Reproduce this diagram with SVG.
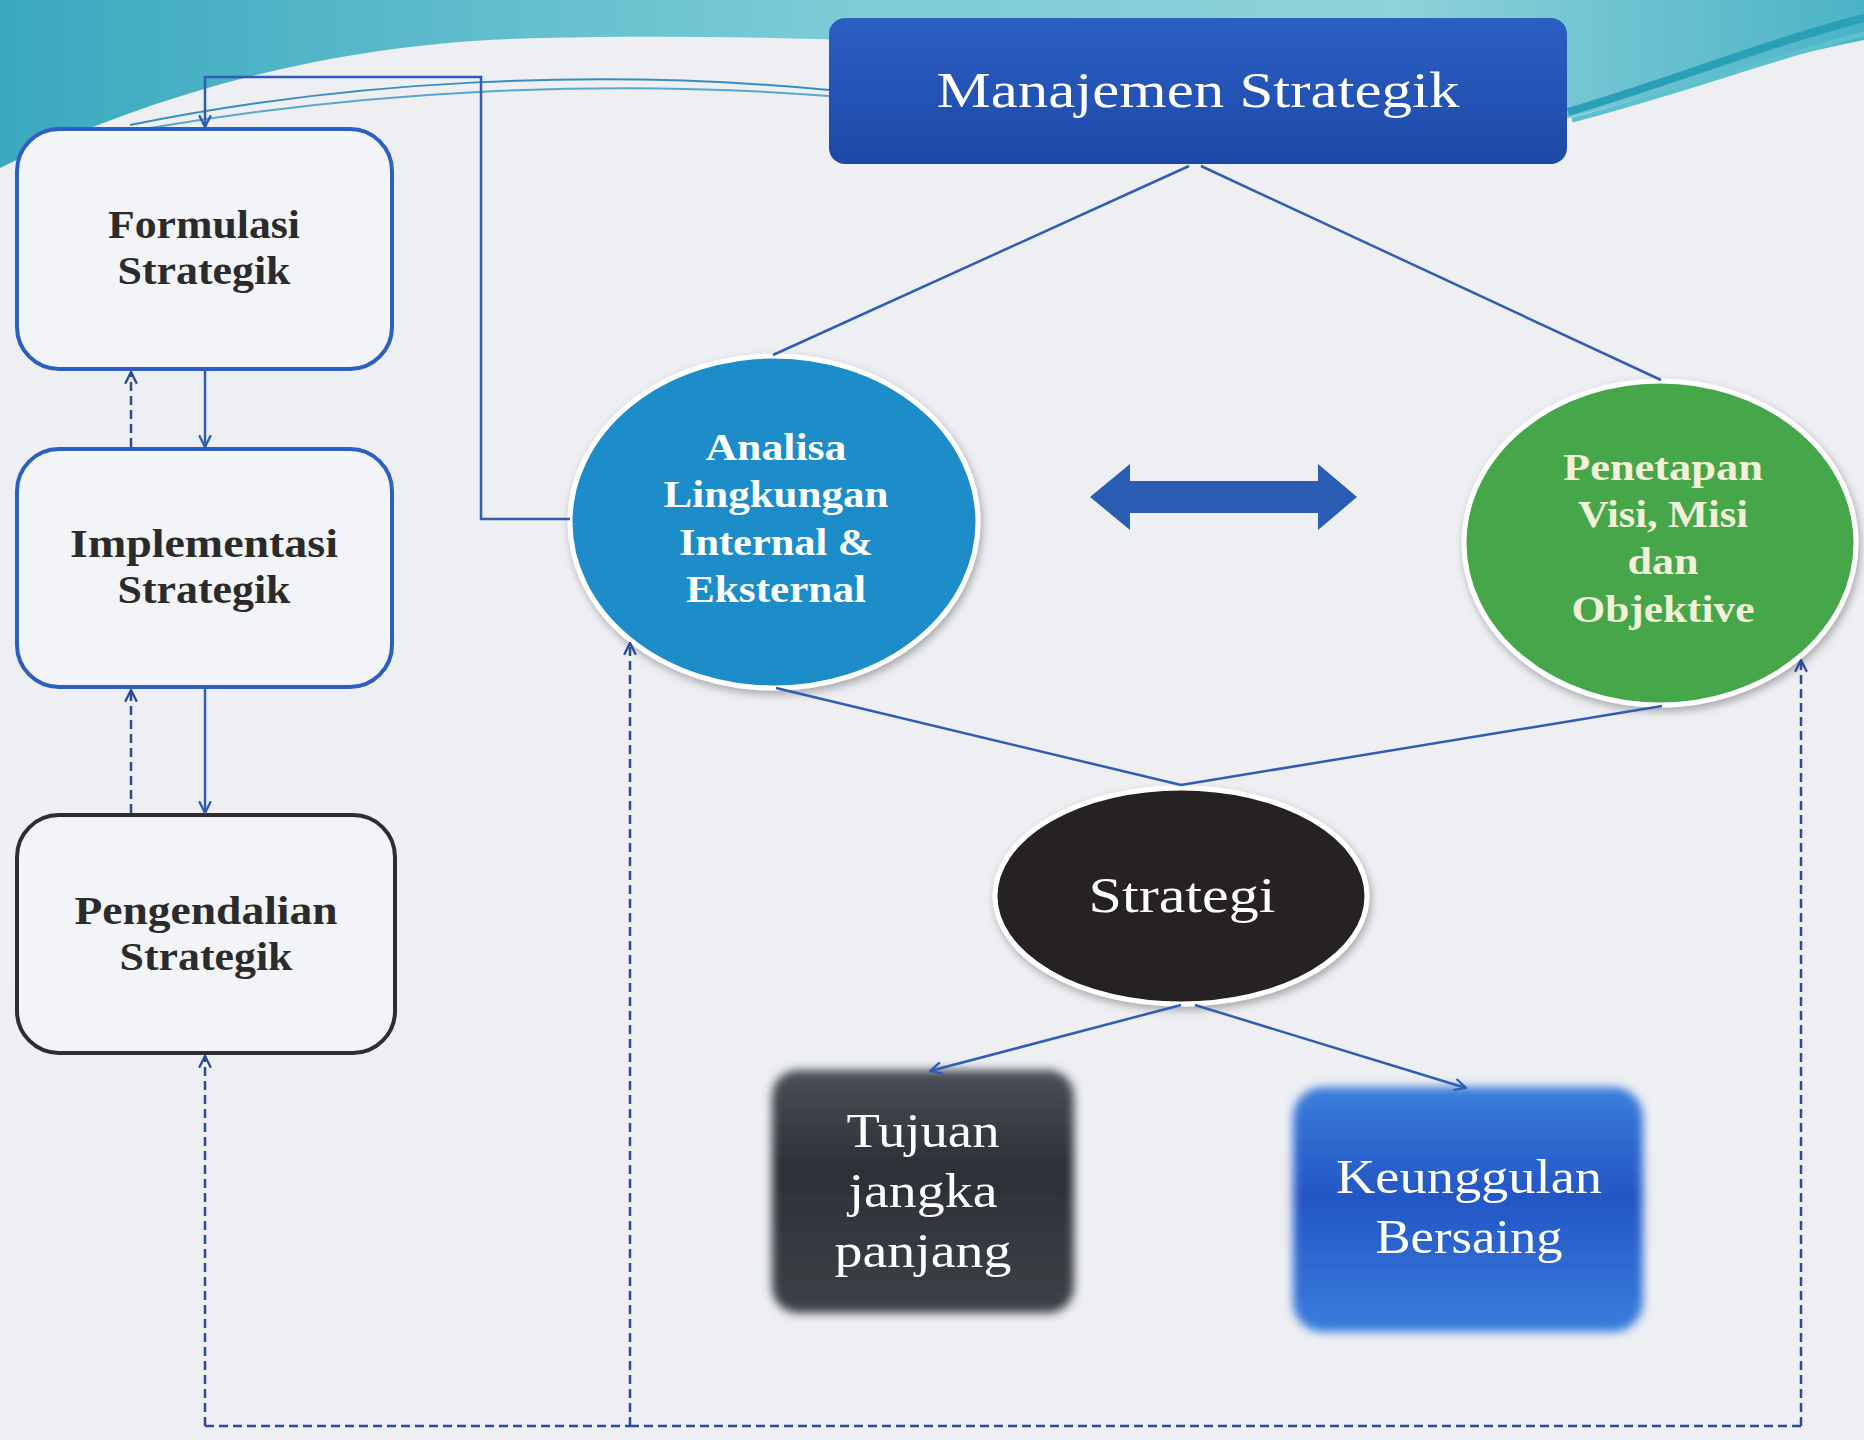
<svg xmlns="http://www.w3.org/2000/svg" width="1864" height="1440" viewBox="0 0 1864 1440">
<defs>
<style>
.t{font-family:"Liberation Serif","Times New Roman",serif;text-anchor:middle}
.b{font-weight:bold}
.dark{fill:#2b2b2b;font-size:40px}
.wt{fill:#ffffff}
.ell{font-size:38px}
.sq{font-size:48px}
.con{fill:none;stroke:#2f5cb5;stroke-width:2.5}
.dash{fill:none;stroke:#2a4a9c;stroke-width:2.5;stroke-dasharray:9 5}
.lbox{fill:#f3f4f7;stroke-width:4}
</style>
<linearGradient id="teal" x1="0" y1="0" x2="1" y2="0">
<stop offset="0" stop-color="#3aa8bf"/>
<stop offset="0.45" stop-color="#7cccd6"/>
<stop offset="0.75" stop-color="#8fd2da"/>
<stop offset="1" stop-color="#4bb3c6"/>
</linearGradient>
<linearGradient id="gMan" x1="0" y1="0" x2="0" y2="1">
<stop offset="0" stop-color="#2b5fc2"/>
<stop offset="1" stop-color="#1c49a8"/>
</linearGradient>
<linearGradient id="gTuj" x1="0" y1="0" x2="0" y2="1">
<stop offset="0" stop-color="#4a4f57"/>
<stop offset="0.4" stop-color="#2c3036"/>
<stop offset="1" stop-color="#3d4148"/>
</linearGradient>
<linearGradient id="gKeu" x1="0" y1="0" x2="0" y2="1">
<stop offset="0" stop-color="#3b7ddc"/>
<stop offset="0.45" stop-color="#2356c4"/>
<stop offset="1" stop-color="#3a7ddd"/>
</linearGradient>
<filter id="shadow" x="-20%" y="-20%" width="140%" height="140%">
<feDropShadow dx="2" dy="4" stdDeviation="4" flood-color="#000" flood-opacity="0.3"/>
</filter>
<filter id="soft" x="-10%" y="-10%" width="120%" height="120%">
<feGaussianBlur stdDeviation="5"/>
</filter>
<marker id="arr" viewBox="0 0 12 12" refX="11" refY="6" markerWidth="14" markerHeight="14" markerUnits="userSpaceOnUse" orient="auto">
<path d="M1,1 L11,6 L1,11" fill="none" stroke="#2f5cb5" stroke-width="2"/>
</marker>
<marker id="arrd" viewBox="0 0 12 12" refX="11" refY="6" markerWidth="14" markerHeight="14" markerUnits="userSpaceOnUse" orient="auto">
<path d="M1,1 L11,6 L1,11" fill="none" stroke="#2a4a9c" stroke-width="2"/>
</marker>
</defs>

<rect x="0" y="0" width="1864" height="1440" fill="#edeff3"/>

<g id="decor">
<path d="M0,0 H1864 V40 C1760,60 1660,95 1568,118 C1300,60 900,30 540,38 C330,42 150,95 0,168 Z" fill="url(#teal)"/>
<path d="M1568,112 C1670,82 1770,42 1864,18" fill="none" stroke="#2aa0b6" stroke-width="8"/>
<path d="M1572,120 C1680,92 1780,55 1864,34" fill="none" stroke="#5cc0cf" stroke-width="5"/>
<path d="M829,90 C600,68 350,80 130,125" fill="none" stroke="#3a8cc0" stroke-width="2"/>
<path d="M829,96 C600,78 360,92 150,128" fill="none" stroke="#5aa6cf" stroke-width="2"/>
</g>

<g id="node-manajemen">
<rect x="829" y="18" width="738" height="146" rx="16" fill="url(#gMan)"/>
<text class="t wt" x="1198" y="107" font-size="50" textLength="523" lengthAdjust="spacingAndGlyphs">Manajemen Strategik</text>
</g>

<g id="node-formulasi">
<rect class="lbox" x="17" y="129" width="375" height="240" rx="42" stroke="#2c5fbf"/>
<text class="t b dark" x="204" y="238" textLength="192" lengthAdjust="spacingAndGlyphs">Formulasi</text>
<text class="t b dark" x="204" y="284" textLength="173" lengthAdjust="spacingAndGlyphs">Strategik</text>
</g>

<g id="node-implementasi">
<rect class="lbox" x="17" y="449" width="375" height="238" rx="42" stroke="#2c5fbf"/>
<text class="t b dark" x="204" y="557" textLength="268" lengthAdjust="spacingAndGlyphs">Implementasi</text>
<text class="t b dark" x="204" y="603" textLength="173" lengthAdjust="spacingAndGlyphs">Strategik</text>
</g>

<g id="node-pengendalian">
<rect class="lbox" x="17" y="815" width="378" height="238" rx="42" stroke="#2e2e2e"/>
<text class="t b dark" x="206" y="924" textLength="263" lengthAdjust="spacingAndGlyphs">Pengendalian</text>
<text class="t b dark" x="206" y="970" textLength="173" lengthAdjust="spacingAndGlyphs">Strategik</text>
</g>

<g id="node-analisa">
<ellipse cx="774" cy="522" rx="204" ry="166" fill="#1a8dc9" stroke="#ffffff" stroke-width="5" filter="url(#shadow)"/>
<text class="t b wt ell" x="776" y="460" textLength="141" lengthAdjust="spacingAndGlyphs">Analisa</text>
<text class="t b wt ell" x="776" y="507" textLength="225" lengthAdjust="spacingAndGlyphs">Lingkungan</text>
<text class="t b wt ell" x="776" y="555" textLength="194" lengthAdjust="spacingAndGlyphs">Internal &amp;</text>
<text class="t b wt ell" x="776" y="602" textLength="180" lengthAdjust="spacingAndGlyphs">Eksternal</text>
</g>

<g id="node-penetapan">
<ellipse cx="1660" cy="543" rx="196" ry="162" fill="#45a74a" stroke="#ffffff" stroke-width="5" filter="url(#shadow)"/>
<text class="t b ell" fill="#f3f1d8" x="1663" y="480" textLength="200" lengthAdjust="spacingAndGlyphs">Penetapan</text>
<text class="t b ell" fill="#f3f1d8" x="1663" y="527" textLength="170" lengthAdjust="spacingAndGlyphs">Visi, Misi</text>
<text class="t b ell" fill="#f3f1d8" x="1663" y="574" textLength="71" lengthAdjust="spacingAndGlyphs">dan</text>
<text class="t b ell" fill="#f3f1d8" x="1663" y="622" textLength="183" lengthAdjust="spacingAndGlyphs">Objektive</text>
</g>

<g id="node-doublearrow">
<polygon points="1090,497 1130,464 1130,481 1318,481 1318,464 1357,497 1318,530 1318,513 1130,513 1130,530" fill="#2a5cb3"/>
</g>

<g id="node-strategi">
<ellipse cx="1181" cy="896" rx="186" ry="108" fill="#252122" stroke="#ffffff" stroke-width="5" filter="url(#shadow)"/>
<text class="t wt" x="1182" y="912" font-size="50" textLength="187" lengthAdjust="spacingAndGlyphs">Strategi</text>
</g>

<g id="node-tujuan">
<rect x="772" y="1070" width="302" height="243" rx="26" fill="url(#gTuj)" filter="url(#soft)"/>
<text class="t wt sq" x="923" y="1147" textLength="153" lengthAdjust="spacingAndGlyphs">Tujuan</text>
<text class="t wt sq" x="923" y="1207" textLength="149" lengthAdjust="spacingAndGlyphs">jangka</text>
<text class="t wt sq" x="923" y="1267" textLength="177" lengthAdjust="spacingAndGlyphs">panjang</text>
</g>

<g id="node-keunggulan">
<rect x="1293" y="1087" width="350" height="245" rx="30" fill="url(#gKeu)" filter="url(#soft)"/>
<text class="t wt sq" x="1469" y="1193" textLength="266" lengthAdjust="spacingAndGlyphs">Keunggulan</text>
<text class="t wt sq" x="1469" y="1253" textLength="187" lengthAdjust="spacingAndGlyphs">Bersaing</text>
</g>

<g id="connectors">
<path class="con" d="M570,519 H481 V77 H205 V127" marker-end="url(#arr)"/>
<line class="con" x1="205" y1="371" x2="205" y2="447" marker-end="url(#arr)"/>
<line class="con" x1="205" y1="689" x2="205" y2="813" marker-end="url(#arr)"/>
<line class="dash" x1="131" y1="447" x2="131" y2="372" marker-end="url(#arrd)"/>
<line class="dash" x1="131" y1="813" x2="131" y2="690" marker-end="url(#arrd)"/>
<line class="dash" x1="205" y1="1426" x2="205" y2="1056" marker-end="url(#arrd)"/>
<line class="dash" x1="205" y1="1426" x2="630" y2="1426" stroke-width="4"/>
<line class="dash" x1="630" y1="1426" x2="1801" y2="1426"/>
<line class="dash" x1="630" y1="1426" x2="630" y2="643" marker-end="url(#arrd)"/>
<line class="dash" x1="1801" y1="1426" x2="1801" y2="660" marker-end="url(#arrd)"/>
<line class="con" x1="1189" y1="166" x2="773" y2="355"/>
<line class="con" x1="1201" y1="166" x2="1661" y2="380"/>
<line class="con" x1="776" y1="688" x2="1181" y2="785"/>
<line class="con" x1="1662" y1="706" x2="1181" y2="785"/>
<line class="con" x1="1181" y1="1005" x2="930" y2="1071" marker-end="url(#arr)"/>
<line class="con" x1="1195" y1="1005" x2="1466" y2="1088" marker-end="url(#arr)"/>
</g>
</svg>
